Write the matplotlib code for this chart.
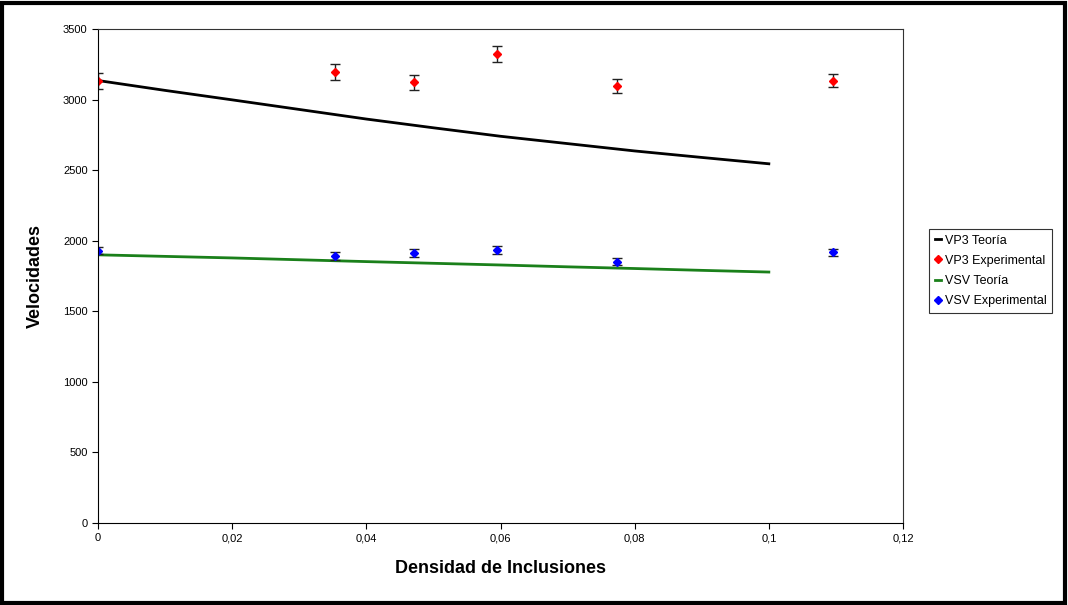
import numpy as np
import matplotlib
matplotlib.use("Agg")
import matplotlib.pyplot as plt
from matplotlib.patches import Rectangle
from matplotlib.lines import Line2D
from matplotlib.ticker import FuncFormatter

plt.rcParams['font.family'] = ['Liberation Sans', 'DejaVu Sans']

# theory curves
dens_teo = [0.0, 0.01, 0.02, 0.03, 0.04, 0.05, 0.06, 0.07, 0.08, 0.09, 0.1]
vp3_teo = [3135, 3065, 2998, 2930, 2862, 2800, 2740, 2688, 2636, 2590, 2545]
vsv_teo = [1900, 1889, 1878, 1865, 1852, 1840, 1828, 1815, 1803, 1790, 1778]

# experimental points
dens_exp = [0.0, 0.0353, 0.0471, 0.0595, 0.0774, 0.1096]
vp3_exp = [3130, 3195, 3122, 3320, 3095, 3135]
vp3_err = [55, 55, 52, 57, 48, 45]
vsv_exp = [1930, 1890, 1912, 1936, 1852, 1918]
vsv_err = [25, 28, 30, 28, 22, 25]

fig = plt.figure(figsize=(10.68, 6.05), dpi=100)
ax = fig.add_axes([98/1068, 1-523/605, (903-98)/1068, (523-29)/605])

ax.plot(dens_teo, vp3_teo, color='black', lw=2)
ax.errorbar(dens_exp, vp3_exp, yerr=vp3_err, fmt='D', ms=4.5, color='#ff0000',
            ecolor='#222222', elinewidth=1, capsize=3.5, capthick=1)
ax.plot(dens_teo, vsv_teo, color='#1a801a', lw=2)
ax.errorbar(dens_exp, vsv_exp, yerr=vsv_err, fmt='D', ms=4.5, color='#0000ff',
            ecolor='#222222', elinewidth=1, capsize=3.5, capthick=1)

ax.set_xlim(0, 0.12)
ax.set_ylim(0, 3500)
ax.set_xticks(np.arange(0, 0.121, 0.02))
ax.set_yticks(np.arange(0, 3501, 500))
ax.xaxis.set_major_formatter(FuncFormatter(lambda v, p: ('%g' % round(v, 2)).replace('.', ',')))
ax.tick_params(direction='out', length=4, labelsize=8, width=0.8)
for s in ax.spines.values():
    s.set_linewidth(0.8)
    s.set_color('black')
ax.spines['top'].set_color('#333333')
ax.spines['right'].set_color('#333333')

ax.set_xlabel('Densidad de Inclusiones', fontsize=13, fontweight='bold', labelpad=12)
ax.set_ylabel('Velocidades', fontsize=13, fontweight='bold', labelpad=14)

# legend proxies: short line for theory, diamond for experimental
h = [Line2D([], [], color='black', lw=2),
     Line2D([], [], ls='none', marker='D', ms=4, color='#ff0000'),
     Line2D([], [], color='#1a801a', lw=2),
     Line2D([], [], ls='none', marker='D', ms=4, color='#0000ff')]
leg = fig.legend(handles=h,
                 labels=['VP3 Teoría', 'VP3 Experimental', 'VSV Teoría', 'VSV Experimental'],
                 loc='upper left', bbox_to_anchor=(929/1068, 1-229/605),
                 fontsize=9, frameon=True, fancybox=False, edgecolor='black',
                 handlelength=0.5, handletextpad=0.3, borderpad=0.45,
                 labelspacing=0.65, borderaxespad=0)
leg.get_frame().set_linewidth(0.8)

fig.patches.append(Rectangle((2/1068, 2/605), 1063/1068, 600/605, transform=fig.transFigure,
                             fill=False, edgecolor='black', linewidth=3))

fig.savefig('out.png', dpi=100)
